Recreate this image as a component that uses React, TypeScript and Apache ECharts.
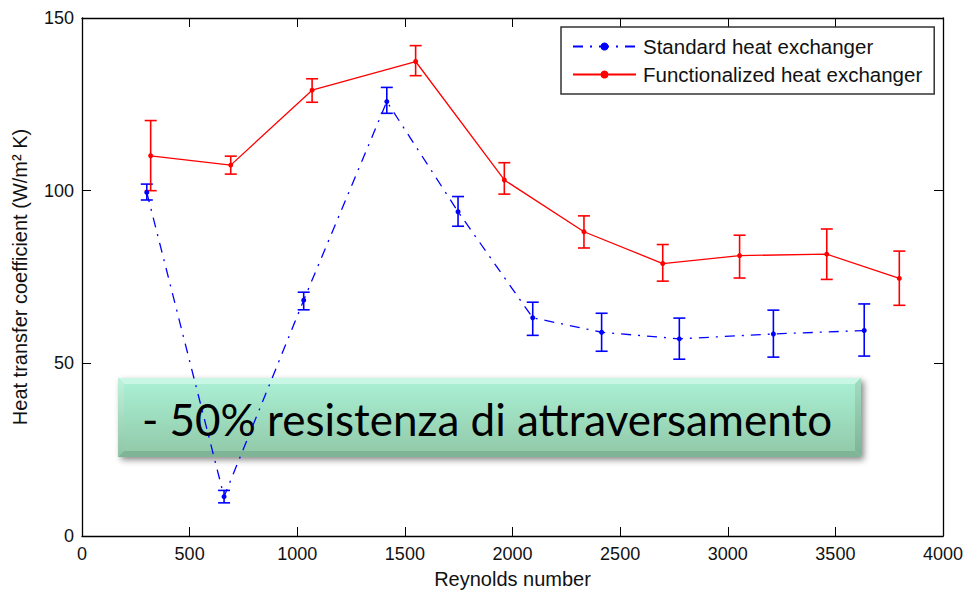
import React, { useEffect, useRef } from "react";
import * as echarts from "echarts";

// Reynolds number (x) and heat transfer coefficient (y) with error ranges
const reStandard = [301, 660, 1030, 1416, 1747, 2094, 2414, 2775, 3212, 3634];
const hStandard = [99.5, 11.4, 68.3, 125.8, 93.9, 63.2, 59.0, 57.1, 58.5, 59.5];
const lowStandard = [97.3, 9.6, 65.5, 122.4, 89.7, 58.1, 53.5, 51.2, 51.8, 52.1];
const highStandard = [101.9, 13.2, 70.6, 129.9, 98.3, 67.7, 64.5, 63.1, 65.4, 67.2];

const reFunctional = [319, 691, 1069, 1550, 1962, 2332, 2698, 3055, 3460, 3797];
const hFunctional = [110.1, 107.4, 129.1, 137.4, 103.1, 88.1, 78.9, 81.2, 81.6, 74.6];
const lowFunctional = [100.0, 104.8, 125.6, 133.3, 99.0, 83.4, 73.8, 74.7, 74.3, 66.8];
const highFunctional = [120.3, 110.0, 132.4, 142.0, 108.1, 92.7, 84.4, 87.1, 88.9, 82.5];

const seriesNames = ["Standard heat exchanger", "Functionalized heat exchanger"];
const xTitle = "Reynolds number";
const yTitle = "Heat transfer coefficient (W/m² K)";
const annotation = "- 50% resistenza di attraversamento";

const BLUE = "#0000ff";
const RED = "#ff0000";
const FONT = "'Liberation Sans', Arial, Helvetica, sans-serif";

function errorSeries(name: string, xs: number[], lo: number[], hi: number[], color: string) {
  return {
    type: "custom",
    name,
    xAxisIndex: 0,
    yAxisIndex: 0,
    data: xs.map((x, i) => [x, lo[i], hi[i]]),
    encode: { x: 0, y: [1, 2] },
    z: 3,
    silent: true,
    renderItem: (_params: any, api: any) => {
      const x = api.value(0);
      const p1 = api.coord([x, api.value(1)]);
      const p2 = api.coord([x, api.value(2)]);
      const w = 6;
      const style = { stroke: color, lineWidth: 1.6 };
      return {
        type: "group",
        children: [
          { type: "line", shape: { x1: p1[0], y1: p1[1], x2: p2[0], y2: p2[1] }, style },
          { type: "line", shape: { x1: p1[0] - w, y1: p1[1], x2: p1[0] + w, y2: p1[1] }, style },
          { type: "line", shape: { x1: p2[0] - w, y1: p2[1], x2: p2[0] + w, y2: p2[1] }, style },
        ],
      };
    },
  };
}

export default function App() {
  const ref = useRef<HTMLDivElement>(null);
  useEffect(() => {
    document.body.style.margin = "0";
    const chart = echarts.init(ref.current!, null, { renderer: "svg" });
    const boxL = 118, boxT = 378, boxW = 743, boxH = 79, bev = 6;
    const plain = (v: number) => String(v);
    chart.setOption({
      animation: false,
      backgroundColor: "#ffffff",
      grid: { left: 82, right: 27, top: 18, bottom: 62, outerBoundsMode: "none" },
      legend: {
        data: seriesNames,
        orient: "vertical",
        left: 561,
        top: 27,
        padding: [9, 12, 9, 11],
        itemGap: 7,
        itemWidth: 63,
        itemHeight: 10,
        borderColor: "#333",
        borderWidth: 1.5,
        backgroundColor: "#fff",
        textStyle: { fontFamily: FONT, fontSize: 20.5, color: "#111", padding: [0, 0, 0, 2] },
      },
      xAxis: [
        {
          type: "value",
          min: 0,
          max: 4000,
          interval: 500,
          name: xTitle,
          nameLocation: "middle",
          nameGap: 33,
          nameTextStyle: { fontFamily: FONT, fontSize: 20, color: "#111" },
          axisLine: { show: true, onZero: false, lineStyle: { color: "#000", width: 1.3 } },
          axisTick: { show: true, inside: true, length: 9, lineStyle: { color: "#000" } },
          axisLabel: { fontFamily: FONT, fontSize: 18, color: "#111", margin: 9, formatter: plain },
          splitLine: { show: false },
        },
        {
          type: "value",
          position: "top",
          min: 0,
          max: 4000,
          interval: 500,
          axisLine: { show: true, onZero: false, lineStyle: { color: "#000", width: 1.3 } },
          axisTick: { show: true, inside: true, length: 9, lineStyle: { color: "#000" } },
          axisLabel: { show: false },
          splitLine: { show: false },
        },
      ],
      yAxis: [
        {
          type: "value",
          min: 0,
          max: 150,
          interval: 50,
          name: yTitle,
          nameLocation: "middle",
          nameGap: 52,
          nameTextStyle: { fontFamily: FONT, fontSize: 20, color: "#111" },
          axisLine: { show: true, onZero: false, lineStyle: { color: "#000", width: 1.3 } },
          axisTick: { show: true, inside: true, length: 9, lineStyle: { color: "#000" } },
          axisLabel: { fontFamily: FONT, fontSize: 18, color: "#111", margin: 8, formatter: plain },
          splitLine: { show: false },
        },
        {
          type: "value",
          position: "right",
          min: 0,
          max: 150,
          interval: 50,
          axisLine: { show: true, onZero: false, lineStyle: { color: "#000", width: 1.3 } },
          axisTick: { show: true, inside: true, length: 9, lineStyle: { color: "#000" } },
          axisLabel: { show: false },
          splitLine: { show: false },
        },
      ],
      series: [
        {
          type: "line",
          name: seriesNames[0],
          data: reStandard.map((x, i) => [x, hStandard[i]]),
          symbol: "circle",
          symbolSize: 5,
          color: BLUE,
          itemStyle: { color: BLUE },
          lineStyle: { color: BLUE, width: 1.3, type: [10, 7, 2, 7] },
          z: 4,
        },
        {
          type: "line",
          name: seriesNames[1],
          data: reFunctional.map((x, i) => [x, hFunctional[i]]),
          symbol: "circle",
          symbolSize: 5,
          color: RED,
          itemStyle: { color: RED },
          lineStyle: { color: RED, width: 1.3 },
          z: 4,
        },
        errorSeries("errStandard", reStandard, lowStandard, highStandard, BLUE),
        errorSeries("errFunctional", reFunctional, lowFunctional, highFunctional, RED),
      ],
      graphic: [
        {
          type: "group",
          z: 100,
          children: [
            {
              type: "rect",
              shape: { x: boxL, y: boxT, width: boxW, height: boxH },
              style: {
                fill: "#9fdcbe",
                shadowBlur: 6,
                shadowOffsetX: 3,
                shadowOffsetY: 3,
                shadowColor: "rgba(0,0,0,0.45)",
              },
            },
            {
              type: "polygon",
              shape: { points: [[boxL, boxT], [boxL + boxW, boxT], [boxL + boxW - bev, boxT + bev], [boxL + bev, boxT + bev]] },
              style: { fill: "#c9f7e6" },
            },
            {
              type: "polygon",
              shape: { points: [[boxL, boxT], [boxL + bev, boxT + bev], [boxL + bev, boxT + boxH - bev], [boxL, boxT + boxH]] },
              style: {
                fill: new echarts.graphic.LinearGradient(0, 0, 0, 1, [
                  { offset: 0, color: "#bff2dc" },
                  { offset: 1, color: "#8fc4a6" },
                ]),
              },
            },
            {
              type: "polygon",
              shape: { points: [[boxL + boxW, boxT], [boxL + boxW, boxT + boxH], [boxL + boxW - bev, boxT + boxH - bev], [boxL + boxW - bev, boxT + bev]] },
              style: {
                fill: new echarts.graphic.LinearGradient(0, 0, 0, 1, [
                  { offset: 0, color: "#a2dcc0" },
                  { offset: 1, color: "#7eb295" },
                ]),
              },
            },
            {
              type: "polygon",
              shape: { points: [[boxL, boxT + boxH], [boxL + bev, boxT + boxH - bev], [boxL + boxW - bev, boxT + boxH - bev], [boxL + boxW, boxT + boxH]] },
              style: { fill: "#7fb497" },
            },
            {
              type: "rect",
              shape: { x: boxL + bev, y: boxT + bev, width: boxW - 2 * bev, height: boxH - 2 * bev },
              style: {
                fill: new echarts.graphic.LinearGradient(0, 0, 0, 1, [
                  { offset: 0, color: "#a9eed3" },
                  { offset: 1, color: "#92cbaa" },
                ]),
              },
            },
            {
              type: "text",
              x: 487,
              y: 419,
              style: {
                text: annotation,
                fill: "#000",
                font: "44px Lato, 'Open Sans', sans-serif",
                align: "center",
                verticalAlign: "middle",
              },
            },
          ],
        },
      ],
    });
    return () => chart.dispose();
  }, []);
  return (
    <div
      ref={ref}
      style={{ position: "fixed", left: 0, top: 0, width: 970, height: 598 }}
    />
  );
}
